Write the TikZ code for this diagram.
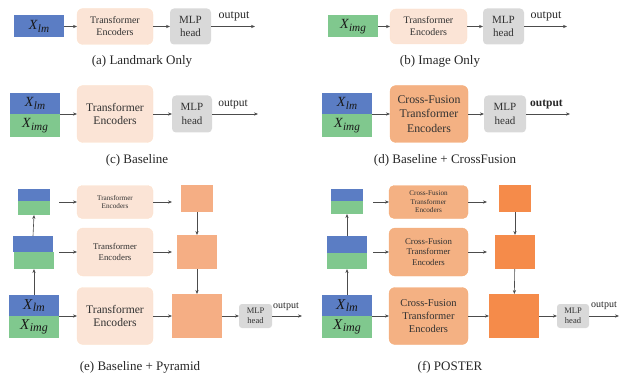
\documentclass[tikz,border=0pt]{standalone}
\usepackage{fontspec}
\setmainfont{Liberation Serif}
\usetikzlibrary{arrows.meta}

\definecolor{lmblue}{RGB}{91,125,196}
\definecolor{imggreen}{RGB}{128,200,142}
\definecolor{peach}{RGB}{251,228,214}
\definecolor{cforange}{RGB}{244,177,131}
\definecolor{pyrlight}{RGB}{245,174,132}
\definecolor{pyrdark}{RGB}{245,139,74}
\definecolor{mlpgray}{RGB}{217,217,217}
\definecolor{inktext}{RGB}{50,50,50}

\newcommand{\fsz}[1]{\fontsize{#1}{\the\dimexpr #1pt*12/10\relax}\selectfont}
% italic variable with italic subscript
\newcommand{\xvar}[1]{{\itshape X\kern0.5pt\raisebox{-0.35ex}{\fontsize{0.8em}{1em}\selectfont #1}}}

\tikzset{
  box/.style={inner sep=0pt, outer sep=0pt, align=center, text=inktext},
  tile/.style={box, draw=none, text=black!90},
  lmtile/.style={tile, fill=lmblue},
  imgtile/.style={tile, fill=imggreen},
  encbox/.style={box, fill=peach, draw=peach!80!orange!60, line width=0.3pt, rounded corners=6pt},
  cfbox/.style={box, fill=cforange, draw=cforange!90!orange, line width=0.3pt, rounded corners=6pt},
  mlpbox/.style={box, fill=mlpgray, rounded corners=4pt},
  pyrA/.style={box, fill=pyrlight},
  pyrB/.style={box, fill=pyrdark},
  flow/.style={draw=black!70, line width=0.6pt, -{Stealth[length=4pt,width=3.2pt]}},
  caption/.style={inner sep=0pt, text=black!85, font=\fsz{13}},
  outlabel/.style={inner sep=0pt, text=black!85},
}

\begin{document}
\begin{tikzpicture}[x=1pt,y=-1pt]
\useasboundingbox (0,0) rectangle (629,377);

% ---------------- (a) Landmark Only ----------------
\node[lmtile, minimum width=50pt, minimum height=22pt, font=\fsz{14}] (a-x) at (39,26.5) {\xvar{lm}};
\node[encbox, minimum width=76pt, minimum height=36pt, font=\fsz{10}] (a-te) at (115,26.5) {Transformer\\Encoders};
\node[mlpbox, minimum width=41pt, minimum height=36pt, font=\fsz{11}] (a-mlp) at (190.5,26.5) {MLP\\head};
\coordinate (a-out) at (255,26.5);
\draw[flow] (a-x) -- (a-te);
\draw[flow] (a-te) -- (a-mlp);
\draw[flow] (a-mlp) -- (a-out);
\node[outlabel, font=\fsz{12}] (a-ol) at (234,16) {output};
\node[caption] (a-cap) at (142,61) {(a) Landmark Only};

% ---------------- (b) Image Only ----------------
\node[imgtile, minimum width=50pt, minimum height=22pt, font=\fsz{14}] (b-x) at (353,26.5) {\xvar{img}};
\node[encbox, minimum width=77pt, minimum height=35pt, font=\fsz{10}] (b-te) at (428.5,26.5) {Transformer\\Encoders};
\node[mlpbox, minimum width=41pt, minimum height=36pt, font=\fsz{11}] (b-mlp) at (503.5,26.5) {MLP\\head};
\coordinate (b-out) at (567,26.5);
\draw[flow] (b-x) -- (b-te);
\draw[flow] (b-te) -- (b-mlp);
\draw[flow] (b-mlp) -- (b-out);
\node[outlabel, font=\fsz{12}] (b-ol) at (546,16) {output};
\node[caption] (b-cap) at (440,61) {(b) Image Only};

% ---------------- (c) Baseline ----------------
\node[lmtile, minimum width=50pt, minimum height=21pt, font=\fsz{14}] (c-lm) at (35,103.5) {\xvar{lm}};
\node[imgtile, minimum width=50pt, minimum height=23pt, font=\fsz{14}] (c-img) at (35,125.5) {\xvar{img}};
\node[encbox, minimum width=76pt, minimum height=57pt, font=\fsz{11.6}] (c-te) at (115,114) {Transformer\\Encoders};
\node[mlpbox, minimum width=40pt, minimum height=37pt, font=\fsz{11}] (c-mlp) at (192,114) {MLP\\head};
\coordinate (c-out) at (258,114);
\draw[flow] (c-lm.south east) -- (c-te.west);
\draw[flow] (c-te) -- (c-mlp);
\draw[flow] (c-mlp) -- (c-out);
\node[outlabel, font=\fsz{11.5}] (c-ol) at (233,104) {output};
\node[caption] (c-cap) at (137,160) {(c) Baseline};

% ---------------- (d) Baseline + CrossFusion ----------------
\node[lmtile, minimum width=50pt, minimum height=21pt, font=\fsz{14}] (d-lm) at (347,103.5) {\xvar{lm}};
\node[imgtile, minimum width=50pt, minimum height=23pt, font=\fsz{14}] (d-img) at (347,125.5) {\xvar{img}};
\node[cfbox, minimum width=78pt, minimum height=57pt, font=\fsz{11.8}] (d-cf) at (429,114) {Cross-Fusion\\Transformer\\Encoders};
\node[mlpbox, minimum width=42pt, minimum height=37pt, font=\fsz{11}] (d-mlp) at (505,114) {MLP\\head};
\coordinate (d-out) at (570,114);
\draw[flow] (d-lm.south east) -- (d-cf.west);
\draw[flow] (d-cf) -- (d-mlp);
\draw[flow] (d-mlp) -- (d-out);
\node[outlabel, font=\fsz{11.5}\bfseries] (d-ol) at (546.5,104) {output};
\node[caption] (d-cap) at (445,160) {(d) Baseline + CrossFusion};

% ---------------- (e) Baseline + Pyramid ----------------
% input pyramid
\node[lmtile, minimum width=32pt, minimum height=12pt] (e-b1) at (34,195) {};
\node[imgtile, minimum width=32pt, minimum height=14pt] (e-g1) at (34,208) {};
\node[lmtile, minimum width=40pt, minimum height=16pt] (e-b2) at (33,244) {};
\node[imgtile, minimum width=40pt, minimum height=17pt] (e-g2) at (34,260.5) {};
\node[lmtile, minimum width=50pt, minimum height=21pt, font=\fsz{15}] (e-b3) at (34,305.5) {\xvar{lm}};
\node[imgtile, minimum width=50pt, minimum height=22pt, font=\fsz{15}] (e-g3) at (34,327) {\xvar{img}};
% encoders
\node[encbox, minimum width=76pt, minimum height=33pt, font=\fsz{7.2}, rounded corners=5pt] (e-te1) at (115,202) {Transformer\\Encoders};
\node[encbox, minimum width=76pt, minimum height=48pt, font=\fsz{8.8}] (e-te2) at (115,252) {Transformer\\Encoders};
\node[encbox, minimum width=76pt, minimum height=57pt, font=\fsz{11.6}] (e-te3) at (115,316) {Transformer\\Encoders};
% feature pyramid
\node[pyrA, minimum width=32pt, minimum height=27pt] (e-s1) at (197,198.5) {};
\node[pyrA, minimum width=40pt, minimum height=34pt] (e-s2) at (197,252) {};
\node[pyrA, minimum width=50pt, minimum height=44pt] (e-s3) at (197,316) {};
\node[mlpbox, minimum width=33pt, minimum height=24pt, font=\fsz{8.5}, rounded corners=3pt] (e-mlp) at (255.5,316) {MLP\\head};
\coordinate (e-in1) at (59,202);
\coordinate (e-in2) at (59,252);
\coordinate (e-o1) at (172,202);
\coordinate (e-o2) at (172,252);
\coordinate (e-out) at (302,316);
\draw[flow] (e-b3.north) -- (e-g2.south);
\draw[flow] (e-b2.north) -- (e-g1.south);
\draw[flow] (e-in1) -- (e-te1.west);
\draw[flow] (e-in2) -- (e-te2.west);
\draw[flow] (e-b3.south east) -- (e-te3.west);
\draw[flow] (e-te1.east) -- (e-o1);
\draw[flow] (e-te2.east) -- (e-o2);
\draw[flow] (e-te3) -- (e-s3);
\draw[flow] (e-s1) -- (e-s2);
\draw[flow] (e-s2) -- (e-s3);
\draw[flow] (e-s3) -- (e-mlp);
\draw[flow] (e-mlp) -- (e-out);
\node[outlabel, font=\fsz{10}] (e-ol) at (286,307) {output};
\node[caption] (e-cap) at (140,367) {(e) Baseline + Pyramid};

% ---------------- (f) POSTER ----------------
\node[lmtile, minimum width=32pt, minimum height=12pt] (f-b1) at (347,195) {};
\node[imgtile, minimum width=32pt, minimum height=13pt] (f-g1) at (347,207.5) {};
\node[lmtile, minimum width=40pt, minimum height=17pt] (f-b2) at (347,244.5) {};
\node[imgtile, minimum width=40pt, minimum height=16pt] (f-g2) at (347,261) {};
\node[lmtile, minimum width=50pt, minimum height=21pt, font=\fsz{15}] (f-b3) at (347,305.5) {\xvar{lm}};
\node[imgtile, minimum width=50pt, minimum height=22pt, font=\fsz{15}] (f-g3) at (347,327) {\xvar{img}};
\node[cfbox, minimum width=79pt, minimum height=33pt, font=\fsz{7.2}, rounded corners=5pt] (f-cf1) at (428.5,202) {Cross-Fusion\\Transformer\\Encoders};
\node[cfbox, minimum width=79pt, minimum height=48pt, font=\fsz{8.8}] (f-cf2) at (428.5,252) {Cross-Fusion\\Transformer\\Encoders};
\node[cfbox, minimum width=79pt, minimum height=57pt, font=\fsz{10.5}] (f-cf3) at (428.5,316) {Cross-Fusion\\Transformer\\Encoders};
\node[pyrB, minimum width=32pt, minimum height=27pt] (f-s1) at (515,198.5) {};
\node[pyrB, minimum width=40pt, minimum height=34pt] (f-s2) at (515,252) {};
\node[pyrB, minimum width=50pt, minimum height=44pt] (f-s3) at (514,316) {};
\node[mlpbox, minimum width=32pt, minimum height=24pt, font=\fsz{8.5}, rounded corners=3pt] (f-mlp) at (573,316) {MLP\\head};
\coordinate (f-in1) at (373,202);
\coordinate (f-in2) at (373,252);
\coordinate (f-o1) at (487,202);
\coordinate (f-o2) at (487,252);
\coordinate (f-out) at (619,316);
\draw[flow] (f-b3.north) -- (f-g2.south);
\draw[flow] (f-b2.north) -- (f-g1.south);
\draw[flow] (f-in1) -- (f-cf1.west);
\draw[flow] (f-in2) -- (f-cf2.west);
\draw[flow] (f-b3.south east) -- (f-cf3.west);
\draw[flow] (f-cf1.east) -- (f-o1);
\draw[flow] (f-cf2.east) -- (f-o2);
\draw[flow] (f-cf3) -- (f-s3);
\draw[flow] (f-s1) -- (f-s2);
\draw[flow] (f-s2) -- (f-s3);
\draw[flow] (f-s3) -- (f-mlp);
\draw[flow] (f-mlp) -- (f-out);
\node[outlabel, font=\fsz{10}] (f-ol) at (604,306) {output};
\node[caption] (f-cap) at (450,367) {(f) POSTER};

\end{tikzpicture}
\end{document}
